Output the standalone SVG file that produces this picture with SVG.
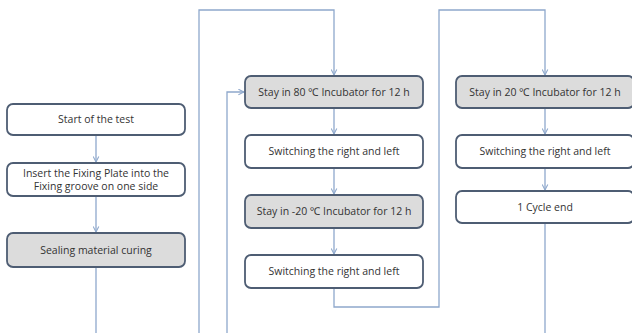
<svg xmlns="http://www.w3.org/2000/svg" width="632" height="333" viewBox="0 0 632 333">
<style>
.box{fill:#ffffff;stroke:#4e5d73;stroke-width:1.8}
.shade{fill:#dcdcdc}
.lbl{font-family:"Open Sans","Noto Sans",sans-serif;font-size:10.5px;fill:#333333;text-anchor:middle}
.con{fill:none;stroke:#8ea8cc;stroke-width:1.3}
</style>
<defs>
<marker id="arr" viewBox="0 0 10 10" refX="9" refY="5" markerWidth="7" markerHeight="7" orient="auto" markerUnits="userSpaceOnUse">
<path d="M1,1 L9,5 L1,9" fill="none" stroke="#8ea8cc" stroke-width="1.5"/>
</marker>
</defs>
<rect width="632" height="333" fill="#ffffff"/>
<g id="connectors">
<line class="con" x1="96" y1="135" x2="96" y2="162" marker-end="url(#arr)"/>
<line class="con" x1="96" y1="196" x2="96" y2="232" marker-end="url(#arr)"/>
<line class="con" x1="96" y1="267" x2="96" y2="333"/>
<polyline class="con" points="199,333 199,10 334,10 334,75" marker-end="url(#arr)"/>
<polyline class="con" points="227,333 227,92 244,92" marker-end="url(#arr)"/>
<line class="con" x1="334" y1="108" x2="334" y2="134" marker-end="url(#arr)"/>
<line class="con" x1="334" y1="168" x2="334" y2="194" marker-end="url(#arr)"/>
<line class="con" x1="334" y1="228" x2="334" y2="254" marker-end="url(#arr)"/>
<polyline class="con" points="334,288 334,307 439,307 439,10 545,10 545,75" marker-end="url(#arr)"/>
<line class="con" x1="545" y1="108" x2="545" y2="134" marker-end="url(#arr)"/>
<line class="con" x1="545" y1="168" x2="545" y2="190" marker-end="url(#arr)"/>
<line class="con" x1="545" y1="223" x2="545" y2="333"/>
</g>
<g id="n1"><rect class="box" x="7" y="104" width="178" height="31" rx="6"/><text class="lbl" x="96" y="123">Start of the test</text></g>
<g id="n2"><rect class="box" x="7" y="163" width="178" height="33" rx="6"/><text class="lbl" x="96" y="177">Insert the Fixing Plate into the</text><text class="lbl" x="96" y="190">Fixing groove on one side</text></g>
<g id="n3"><rect class="box shade" x="7" y="233" width="178" height="34" rx="6"/><text class="lbl" x="96" y="254">Sealing material curing</text></g>
<g id="n4"><rect class="box shade" x="245" y="76" width="178" height="32" rx="6"/><text class="lbl" x="334" y="96">Stay in 80 ℃ Incubator for 12 h</text></g>
<g id="n5"><rect class="box" x="245" y="135" width="178" height="33" rx="6"/><text class="lbl" x="334" y="155">Switching the right and left</text></g>
<g id="n6"><rect class="box shade" x="245" y="195" width="178" height="33" rx="6"/><text class="lbl" x="334" y="215">Stay in -20 ℃ Incubator for 12 h</text></g>
<g id="n7"><rect class="box" x="245" y="255" width="178" height="33" rx="6"/><text class="lbl" x="334" y="275">Switching the right and left</text></g>
<g id="n8"><rect class="box shade" x="456" y="76" width="178" height="32" rx="6"/><text class="lbl" x="545" y="96">Stay in 20 ℃ Incubator for 12 h</text></g>
<g id="n9"><rect class="box" x="456" y="135" width="178" height="33" rx="6"/><text class="lbl" x="545" y="155">Switching the right and left</text></g>
<g id="n10"><rect class="box" x="456" y="191" width="178" height="32" rx="6"/><text class="lbl" x="545" y="211">1 Cycle end</text></g>
</svg>
